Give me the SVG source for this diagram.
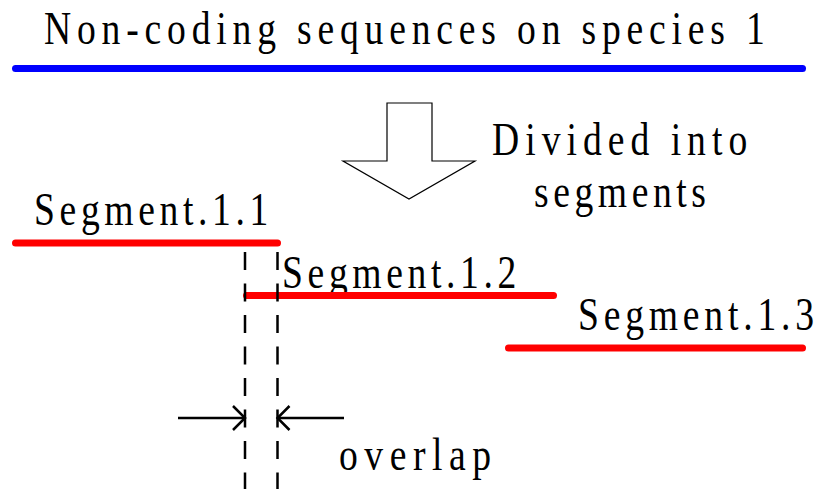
<svg xmlns="http://www.w3.org/2000/svg" width="823" height="489" viewBox="0 0 823 489">
  <style>
    /* labels: condensed serif (x-scale 0.8) with letter spacing set by textLength */
    .lbl { font-family: "Liberation Serif", "DejaVu Serif", serif; font-size: 47px; fill: #000; }
    .seq { fill: none; stroke-width: 7; stroke-linecap: round; }
    .blue { stroke: #0000ff; }
    .red { stroke: #ff0000; }
    .guide { stroke: #000; stroke-width: 2.5; stroke-dasharray: 18 13.5; fill: none; }
    .dim { stroke: #000; stroke-width: 2.5; fill: none; }
  </style>
  <defs>
    <marker id="openHead" markerUnits="userSpaceOnUse" markerWidth="16" markerHeight="28" refX="13" refY="13" orient="auto" viewBox="0 0 16 28">
      <polyline points="1,1 13,13 1,25" fill="none" stroke="#000" stroke-width="2.5"/>
    </marker>
  </defs>

  <rect width="823" height="489" fill="#fff"/>

  <g id="source">
    <g transform="translate(44,44) scale(0.8,1)">
      <text class="lbl" x="0" y="0" textLength="901" lengthAdjust="spacing">Non-coding sequences on species 1</text>
    </g>
    <line class="seq blue" x1="15.5" y1="68.5" x2="802.5" y2="68.5"/>
  </g>

  <g id="divide">
    <polygon points="387,103 432,103 432,161 475,161 409,199 343,161 387,161" fill="#fff" stroke="#000" stroke-width="1.2"/>
    <g transform="translate(492,155) scale(0.8,1)">
      <text class="lbl" x="0" y="0" textLength="319" lengthAdjust="spacing">Divided into</text>
    </g>
    <g transform="translate(534,207) scale(0.8,1)">
      <text class="lbl" x="0" y="0" textLength="215" lengthAdjust="spacing">segments</text>
    </g>
  </g>

  <g id="segment-1-1">
    <g transform="translate(34,225) scale(0.8,1)">
      <text class="lbl" x="0" y="0" textLength="293" lengthAdjust="spacing">Segment.1.1</text>
    </g>
    <line class="seq red" x1="15.5" y1="243" x2="277.5" y2="243"/>
  </g>

  <g id="segment-1-2">
    <g transform="translate(282,288) scale(0.8,1)">
      <text class="lbl" x="0" y="0" textLength="293" lengthAdjust="spacing">Segment.1.2</text>
    </g>
    <line class="seq red" x1="246.5" y1="295.5" x2="553.5" y2="295.5"/>
  </g>

  <g id="segment-1-3">
    <g transform="translate(578,330) scale(0.8,1)">
      <text class="lbl" x="0" y="0" textLength="295" lengthAdjust="spacing">Segment.1.3</text>
    </g>
    <line class="seq red" x1="508.5" y1="348" x2="802.5" y2="348"/>
  </g>

  <g id="connectors">
    <line class="guide" x1="245" y1="252" x2="245" y2="489"/>
    <line class="guide" x1="277.5" y1="252" x2="277.5" y2="489"/>
    <line class="dim" x1="178" y1="418" x2="245" y2="418" marker-end="url(#openHead)"/>
    <line class="dim" x1="344" y1="418" x2="277.5" y2="418" marker-end="url(#openHead)"/>
  </g>

  <g id="overlap">
    <g transform="translate(339,470) scale(0.8,1)">
      <text class="lbl" x="0" y="0" textLength="190" lengthAdjust="spacing">overlap</text>
    </g>
  </g>
</svg>
